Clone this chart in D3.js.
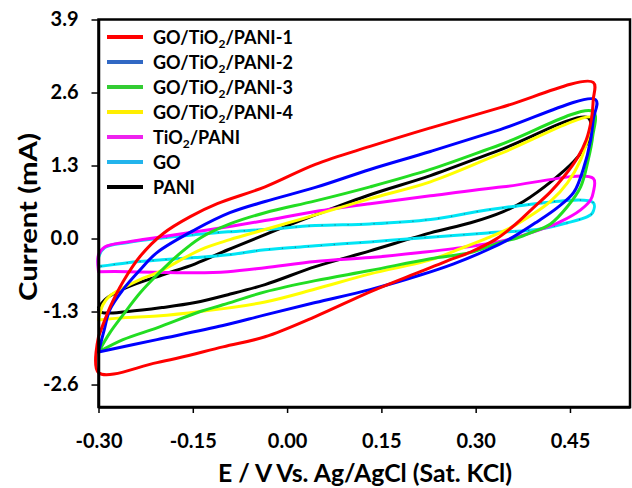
<!DOCTYPE html>
<html>
<head>
<meta charset="utf-8">
<script src="https://cdn.jsdelivr.net/npm/d3@7"></script>
<style>
  html, body { margin: 0; padding: 0; background: #fff; }
  svg { display: block; }
  text { font-family: Lato, "Open Sans", "DejaVu Sans", sans-serif; font-weight: 700; fill: #000; }
</style>
</head>
<body>
<svg id="chart" width="632" height="488"></svg>
<script>
// Cyclic voltammograms: each loop is a list of [E (V), I (mA)] pairs,
// forward sweep from -0.30 V to the vertex, then the reverse sweep back.
const pani1 = [
  [-0.300,-1.75],[-0.291,-1.48],[-0.282,-1.23],[-0.261,-0.77],[-0.234,-0.32],[-0.197,0.09],
  [-0.154,0.39],[-0.111,0.62],[-0.035,0.92],[0.045,1.32],[0.132,1.64],[0.228,1.97],
  [0.339,2.33],[0.487,2.78],[0.487,2.47],[0.484,2.12],[0.476,1.76],[0.462,1.44],
  [0.443,1.14],[0.419,0.83],[0.392,0.55],[0.363,0.25],[0.331,-0.02],[0.292,-0.24],
  [0.252,-0.41],[0.212,-0.59],[0.132,-0.95],[0.045,-1.39],[-0.035,-1.75],[-0.102,-1.93],
  [-0.207,-2.21],[-0.300,-2.39],[-0.300,-1.75]
];
const pani2 = [
  [-0.300,-2.02],[-0.291,-1.63],[-0.282,-1.27],[-0.261,-0.91],[-0.234,-0.56],[-0.207,-0.25],
  [-0.146,0.16],[-0.091,0.46],[-0.035,0.66],[0.045,0.91],[0.132,1.23],[0.228,1.55],
  [0.339,1.94],[0.491,2.47],[0.487,2.12],[0.483,1.76],[0.471,1.23],[0.456,0.82],
  [0.430,0.55],[0.398,0.30],[0.360,0.03],[0.319,-0.20],[0.265,-0.45],[0.212,-0.65],
  [0.132,-0.91],[0.045,-1.14],[-0.035,-1.36],[-0.102,-1.55],[-0.207,-1.80],[-0.300,-2.02]
];
const pani3 = [
  [-0.300,-2.02],[-0.282,-1.68],[-0.261,-1.36],[-0.234,-0.97],[-0.207,-0.65],[-0.173,-0.29],
  [-0.138,0.01],[-0.091,0.26],[-0.035,0.46],[0.045,0.67],[0.132,0.92],[0.228,1.23],
  [0.339,1.67],[0.487,2.26],[0.486,1.81],[0.479,1.40],[0.467,0.92],[0.446,0.57],
  [0.419,0.26],[0.387,0.10],[0.366,0.01],[0.339,-0.07],[0.292,-0.25],[0.228,-0.36],
  [0.132,-0.57],[0.045,-0.75],[-0.035,-0.95],[-0.102,-1.18],[-0.138,-1.30],[-0.207,-1.59],
  [-0.261,-1.80],[-0.300,-2.02]
];
const pani4 = [
  [-0.300,-1.45],[-0.293,-1.18],[-0.282,-1.02],[-0.261,-0.88],[-0.234,-0.73],[-0.207,-0.61],
  [-0.138,-0.20],[-0.091,-0.02],[-0.035,0.16],[0.045,0.42],[0.132,0.71],[0.228,1.01],
  [0.339,1.51],[0.486,2.15],[0.479,1.81],[0.467,1.40],[0.446,0.99],[0.419,0.66],
  [0.392,0.44],[0.355,0.19],[0.319,0.01],[0.276,-0.18],[0.228,-0.38],[0.132,-0.63],
  [0.045,-0.90],[-0.035,-1.13],[-0.138,-1.30],[-0.207,-1.38],[-0.261,-1.41],[-0.300,-1.45]
];
const tio2Pani = [
  [-0.300,-0.59],[-0.300,-0.29],[-0.290,-0.15],[-0.253,-0.06],[-0.199,0.03],[-0.146,0.12],
  [-0.094,0.21],[-0.035,0.32],[0.045,0.48],[0.132,0.62],[0.228,0.76],[0.344,0.92],
  [0.487,1.07],[0.487,0.82],[0.483,0.69],[0.467,0.51],[0.435,0.30],[0.398,0.14],
  [0.344,-0.04],[0.265,-0.18],[0.212,-0.25],[0.132,-0.34],[0.045,-0.41],[-0.035,-0.52],
  [-0.094,-0.59],[-0.146,-0.61],[-0.253,-0.59],[-0.300,-0.59]
];
const go = [
  [-0.300,-0.50],[-0.300,-0.34],[-0.290,-0.16],[-0.253,-0.07],[-0.199,0.01],[-0.146,0.07],
  [-0.094,0.12],[-0.035,0.16],[0.045,0.23],[0.132,0.26],[0.228,0.34],[0.344,0.55],
  [0.487,0.64],[0.486,0.46],[0.478,0.39],[0.446,0.28],[0.398,0.16],[0.319,0.10],
  [0.212,0.01],[0.132,-0.06],[0.045,-0.13],[-0.035,-0.20],[-0.094,-0.29],[-0.146,-0.34],
  [-0.199,-0.38],[-0.253,-0.43],[-0.300,-0.50]
];
const pani = [
  [-0.300,-1.23],[-0.290,-1.09],[-0.274,-0.97],[-0.253,-0.86],[-0.199,-0.65],[-0.146,-0.45],
  [-0.094,-0.20],[-0.035,0.07],[0.045,0.42],[0.132,0.78],[0.228,1.12],[0.339,1.58],
  [0.479,2.15],[0.481,1.81],[0.471,1.58],[0.456,1.37],[0.424,1.05],[0.376,0.66],
  [0.344,0.48],[0.292,0.28],[0.228,0.10],[0.132,-0.22],[0.045,-0.50],[-0.035,-0.82],
  [-0.094,-1.00],[-0.146,-1.14],[-0.199,-1.23],[-0.253,-1.30],[-0.294,-1.32],[-0.300,-1.27]
];

// Legend labels: [text before subscript, subscript, text after]
const seriesNames = [
  ["GO/TiO", "2", "/PANI-1"],
  ["GO/TiO", "2", "/PANI-2"],
  ["GO/TiO", "2", "/PANI-3"],
  ["GO/TiO", "2", "/PANI-4"],
  ["TiO", "2", "/PANI"],
  ["GO", "", ""],
  ["PANI", "", ""]
];
const seriesData = [pani1, pani2, pani3, pani4, tio2Pani, go, pani];
const lineColors = ["#ff0000", "#0000ff", "#22dd22", "#ffff00", "#ff00ff", "#00e5f5", "#000000"];
const swatchColors = ["#ff0000", "#3168c4", "#33cc33", "#ffee00", "#ee22ee", "#22b4ec", "#000000"];
const markedSeries = 5; // the GO trace carries small point markers

const yTicks = [-2.6, -1.3, 0.0, 1.3, 2.6, 3.9];
const xTicks = [-0.30, -0.15, 0.00, 0.15, 0.30, 0.45];
const xTitle = "E / V Vs. Ag/AgCl (Sat. KCl)";
const yTitle = "Current (mA)";

const svg = d3.select("#chart");
const plot = { left: 98.5, right: 630, top: 19.5, bottom: 407 };

const x = d3.scaleLinear().domain([-0.30, 0.5455]).range([plot.left, plot.right]);
const y = d3.scaleLinear().domain([-3.0, 3.9]).range([plot.bottom, plot.top]);

const hyphen = f => d => f(d).replace("\u2212", "-");

// Curves (first series drawn last so it sits on top)
const line = d3.line()
  .x(d => x(d[0]))
  .y(d => y(d[1]))
  .curve(d3.curveCatmullRom.alpha(0.5));

const curves = svg.append("g");
for (let i = seriesData.length - 1; i >= 0; i--) {
  const path = curves.append("path")
    .datum(seriesData[i])
    .attr("d", line)
    .attr("fill", "none")
    .attr("stroke", lineColors[i])
    .attr("stroke-width", 3)
    .attr("stroke-linejoin", "round")
    .attr("stroke-linecap", "round");
  if (i === markedSeries) {
    // tiny dark markers spaced along the trace
    const node = path.node();
    const len = node.getTotalLength();
    const pts = d3.range(6, len, 13).map(l => node.getPointAtLength(l));
    curves.append("g").selectAll("circle").data(pts).join("circle")
      .attr("cx", p => p.x).attr("cy", p => p.y).attr("r", 0.7)
      .attr("fill", "#335566").attr("opacity", 0.7);
  }
}

// Frame
svg.append("rect")
  .attr("x", plot.left).attr("y", plot.top)
  .attr("width", plot.right - plot.left).attr("height", plot.bottom - plot.top)
  .attr("fill", "none").attr("stroke", "#000").attr("stroke-width", 2.5);

// Axes
const yAxis = svg.append("g")
  .attr("transform", `translate(${plot.left},0)`)
  .call(d3.axisLeft(y).tickValues(yTicks).tickFormat(hyphen(d3.format(".1f")))
    .tickSizeInner(7).tickSizeOuter(0).tickPadding(13));
const xAxis = svg.append("g")
  .attr("transform", `translate(0,${plot.bottom})`)
  .call(d3.axisBottom(x).tickValues(xTicks).tickFormat(hyphen(d3.format(".2f")))
    .tickSizeInner(6).tickSizeOuter(0).tickPadding(21));

[yAxis, xAxis].forEach(a => {
  a.select(".domain").attr("stroke", "#000").attr("stroke-width", 2.5);
  a.selectAll(".tick line").attr("stroke", "#000").attr("stroke-width", 1.5);
  a.selectAll(".tick text")
    .attr("font-family", "Lato, 'Open Sans', sans-serif")
    .attr("font-weight", 700)
    .attr("font-size", 20)
    .attr("fill", "#000");
});

// Axis titles
svg.append("text")
  .attr("x", 365).attr("y", 482)
  .attr("text-anchor", "middle")
  .attr("font-size", 24)
  .attr("textLength", 294)
  .attr("lengthAdjust", "spacingAndGlyphs")
  .text(xTitle);

svg.append("text")
  .attr("transform", "translate(37,217) rotate(-90)")
  .attr("text-anchor", "middle")
  .attr("font-size", 25)
  .attr("textLength", 168)
  .attr("lengthAdjust", "spacingAndGlyphs")
  .text(yTitle);

// Legend
const legend = svg.append("g");
seriesNames.forEach((parts, i) => {
  const cy = 37 + i * 25;
  legend.append("line")
    .attr("x1", 107).attr("x2", 143)
    .attr("y1", cy).attr("y2", cy)
    .attr("stroke", swatchColors[i]).attr("stroke-width", 4);
  const t = legend.append("text")
    .attr("x", 153).attr("y", cy + 6.5)
    .attr("font-size", 18);
  t.append("tspan").text(parts[0]);
  if (parts[1]) {
    t.append("tspan").attr("font-size", 12).attr("dy", 4).text(parts[1]);
    t.append("tspan").attr("dy", -4).text(parts[2]);
  }
});
</script>
</body>
</html>
